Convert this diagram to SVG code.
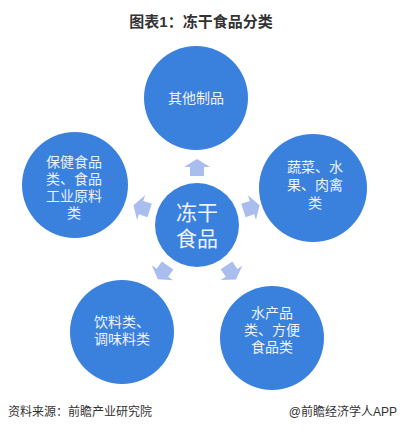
<svg xmlns="http://www.w3.org/2000/svg" width="402" height="432" viewBox="0 0 402 432">
<style>
.c{fill:#3a80dd}
.t{fill:#eef3fd;font-family:"Liberation Sans","Noto Sans CJK SC",sans-serif;font-size:14px;text-anchor:middle}
.big{font-size:21px}
.a{fill:#a9bdef}
.title{fill:#333;font-family:"Liberation Sans","Noto Sans CJK SC",sans-serif;font-size:15px;font-weight:bold;text-anchor:middle}
.foot{fill:#333;font-family:"Liberation Sans","Noto Sans CJK SC",sans-serif;font-size:12px}
</style>
<defs>
<polygon id="arr" points="0,-9 13,-1 7,-1 7,8 -7,8 -7,-1 -13,-1"/>
</defs>
<rect width="402" height="432" fill="#fff"/>
<text class="title" x="201" y="27">图表1：冻干食品分类</text>
<g id="connectors">
<use href="#arr" class="a" transform="translate(197,168)"/>
<use href="#arr" class="a" transform="translate(142,208) rotate(-72)"/>
<use href="#arr" class="a" transform="translate(251,208) rotate(72)"/>
<use href="#arr" class="a" transform="translate(163,272) rotate(-145)"/>
<use href="#arr" class="a" transform="translate(231,272) rotate(146)"/>
</g>
<g id="center">
<circle class="c" cx="197" cy="225" r="42"/>
<text class="t big" x="197" y="219.5">冻干<tspan x="197" dy="26">食品</tspan></text>
</g>
<g id="top">
<circle class="c" cx="196" cy="98" r="52"/>
<text class="t" x="196" y="103">其他制品</text>
</g>
<g id="left">
<circle class="c" cx="75" cy="185" r="53"/>
<text class="t" x="74" y="167">保健食品<tspan x="74" dy="17">类、食品</tspan><tspan x="74" dy="17">工业原料</tspan><tspan x="74" dy="17">类</tspan></text>
</g>
<g id="right">
<circle class="c" cx="313" cy="188" r="54"/>
<text class="t" x="315" y="172">蔬菜、水<tspan x="315" dy="18">果、肉禽</tspan><tspan x="315" dy="18">类</tspan></text>
</g>
<g id="bottomleft">
<circle class="c" cx="122" cy="332" r="52"/>
<text class="t" x="122" y="327">饮料类、<tspan x="122" dy="17">调味料类</tspan></text>
</g>
<g id="bottomright">
<circle class="c" cx="272" cy="338" r="52"/>
<text class="t" x="272" y="318">水产品<tspan x="272" dy="17">类、方便</tspan><tspan x="272" dy="17">食品类</tspan></text>
</g>
<text class="foot" x="8" y="416">资料来源：前瞻产业研究院</text>
<text class="foot" x="397" y="416" text-anchor="end">@前瞻经济学人APP</text>
</svg>
